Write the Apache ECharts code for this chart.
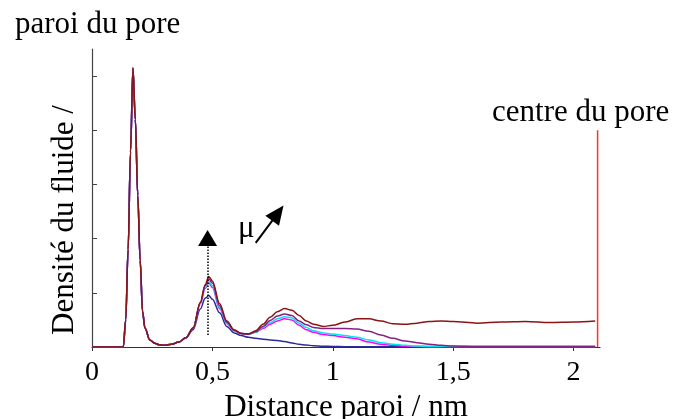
<!DOCTYPE html>
<html>
<head>
<meta charset="utf-8">
<script src="https://cdn.jsdelivr.net/npm/echarts@6/dist/echarts.min.js"></script>
<style>html,body{margin:0;padding:0;background:#fff}#c{width:677px;height:419px}</style>
</head>
<body>
<div id="c"></div>
<script>
// distance from the wall (nm)
const distances = [0, 0.13, 0.14, 0.15, 0.16, 0.17, 0.18, 0.19, 0.20, 0.21, 0.22, 0.24, 0.26, 0.28, 0.30, 0.33, 0.36, 0.39,
  0.42, 0.45, 0.47, 0.485, 0.50, 0.53, 0.56, 0.59, 0.62, 0.65, 0.68, 0.71, 0.74, 0.77, 0.80, 0.83, 0.86, 0.89, 0.92, 0.96,
  1.00, 1.05, 1.10, 1.15, 1.20, 1.25, 1.30, 1.35, 1.40, 1.45, 1.50, 1.60, 1.70, 1.80, 1.90, 2.00, 2.09];
const wallPeak = [0, 0, 0.5, 1.8, 3.6, 5.15, 4.2, 2.8, 1.6, 0.65, 0.35, 0.13, 0.07, 0.04, 0.03, 0.05, 0.09, 0.17];
const densMaroon = wallPeak.concat([0.35, 0.82, 1.15, 1.30, 1.22, 0.80, 0.48, 0.32, 0.25, 0.24, 0.30, 0.42, 0.55, 0.65, 0.71, 0.68, 0.58, 0.48, 0.42, 0.38,
  0.40, 0.46, 0.52, 0.52, 0.48, 0.43, 0.42, 0.44, 0.47, 0.48, 0.47, 0.44, 0.46, 0.47, 0.45, 0.46, 0.48]);
const densPurple = wallPeak.concat([0.35, 0.82, 1.13, 1.26, 1.18, 0.76, 0.46, 0.31, 0.25, 0.24, 0.28, 0.38, 0.49, 0.57, 0.61, 0.58, 0.48, 0.41, 0.36, 0.34,
  0.34, 0.34, 0.33, 0.29, 0.22, 0.16, 0.11, 0.08, 0.05, 0.03, 0.02, 0.01, 0.01, 0.01, 0.01, 0.01, 0.01]);
const densCyan = wallPeak.concat([0.35, 0.81, 1.10, 1.21, 1.13, 0.73, 0.44, 0.30, 0.25, 0.24, 0.27, 0.36, 0.45, 0.52, 0.56, 0.54, 0.44, 0.36, 0.30, 0.26,
  0.24, 0.21, 0.18, 0.13, 0.08, 0.05, 0.03, 0.02, 0.01, 0.01, 0.01, 0.01, 0.01, 0.01, 0.01, 0.01, 0.01]);
const densMagenta = wallPeak.concat([0.35, 0.80, 1.08, 1.18, 1.10, 0.71, 0.43, 0.30, 0.25, 0.24, 0.27, 0.34, 0.42, 0.48, 0.52, 0.50, 0.40, 0.32, 0.27, 0.23,
  0.21, 0.18, 0.15, 0.09, 0.05, 0.03, 0.02, 0.01, 0.01, 0.01, 0.01, 0.01, 0.01, 0.01, 0.01, 0.01, 0.01]);
const densBlue = wallPeak.concat([0.32, 0.70, 0.90, 0.95, 0.88, 0.63, 0.38, 0.26, 0.21, 0.18, 0.16, 0.145, 0.13, 0.12, 0.10, 0.075, 0.05, 0.035, 0.025, 0.015,
  0.01, 0.005, 0.005, 0.005, 0.005, 0.005, 0.005, 0.005, 0.005, 0.005, 0.005, 0.005, 0.005, 0.005, 0.005, 0.005, 0.005]);
const xTicks = [0, 0.5, 1, 1.5, 2];
const yTicks = [0, 1, 2, 3, 4, 5];
const poreCentre = [[2.1, 0], [2.1, 4.0]];
const peakArrow = [[0.48, 0.22], [0.48, 2.01]];
const muArrow = [[0.68, 1.92], [0.772, 2.47]];

const FONT = 'Liberation Serif';
const pairs = arr => distances.map((d, i) => [d, arr[i]]);
const curve = (name, arr, color, extra) => Object.assign({
  name, type: 'line', data: pairs(arr), showSymbol: false, symbol: 'none',
  smooth: 0.35, smoothMonotone: 'x', lineStyle: { color, width: 1.5 }, itemStyle: { color }, silent: true
}, extra || {});

const chart = echarts.init(document.getElementById('c'));
chart.setOption({
  animation: false,
  backgroundColor: '#fff',
  grid: { left: 92, right: 77, top: 49, bottom: 72, outerBoundsMode: 'none', containLabel: false },
  xAxis: {
    type: 'value', min: 0, max: 2.11,
    name: 'Distance paroi / nm', nameLocation: 'middle', nameGap: 43,
    nameTextStyle: { fontFamily: FONT, fontSize: 31, color: '#000' },
    axisLine: { show: true, lineStyle: { color: '#333', width: 1.2 } },
    axisTick: { show: true, inside: false, length: 4, customValues: xTicks, lineStyle: { color: '#333' } },
    axisLabel: { customValues: xTicks, margin: 12, fontFamily: FONT, fontSize: 28, color: '#000',
      formatter: v => String(v).replace('.', ',') },
    splitLine: { show: false }
  },
  yAxis: {
    type: 'value', min: 0, max: 5.5,
    name: 'Densité du fluide /', nameLocation: 'middle', nameGap: 12, nameRotate: 90,
    nameTextStyle: { fontFamily: FONT, fontSize: 31, color: '#000', padding: [0, 44, 0, 0] },
    axisLine: { show: true, lineStyle: { color: '#444', width: 1.2 } },
    axisTick: { show: true, inside: true, length: 5, customValues: yTicks, lineStyle: { color: '#444' } },
    axisLabel: { show: false },
    splitLine: { show: false }
  },
  series: [
    curve('bleu', densBlue, '#2a2a99'),
    curve('magenta', densMagenta, '#ff00ff'),
    curve('cyan', densCyan, '#00e5ee'),
    curve('violet', densPurple, '#852085'),
    curve('bordeaux', densMaroon, '#8b1414', {
      markLine: {
        silent: true, animation: false,
        label: { show: false },
        data: [
          [{ coord: peakArrow[0], symbol: 'none', lineStyle: { type: 'dotted', color: '#000', width: 1.5 } },
           { coord: peakArrow[1], symbol: 'triangle', symbolSize: [19, 16] }],
          [{ coord: muArrow[0], symbol: 'none', lineStyle: { type: 'solid', color: '#000', width: 2 } },
           { coord: muArrow[1], symbol: 'triangle', symbolSize: [17, 19] }]
        ],
        itemStyle: { color: '#000' },
        lineStyle: { color: '#000' }
      }
    }),
    { name: 'centre', type: 'line', data: poreCentre, showSymbol: false, symbol: 'none', silent: true,
      lineStyle: { color: '#ff3030', width: 1.5 } }
  ],
  graphic: [
    { type: 'text', left: 15, top: 9, style: { text: 'paroi du pore', font: '31px "Liberation Serif"', fill: '#000' } },
    { type: 'text', left: 492, top: 97, style: { text: 'centre du pore', font: '31px "Liberation Serif"', fill: '#000' } },
    { type: 'text', left: 238, top: 213, style: { text: 'μ', font: '31px "Liberation Serif"', fill: '#000' } }
  ]
});
</script>
</body>
</html>
